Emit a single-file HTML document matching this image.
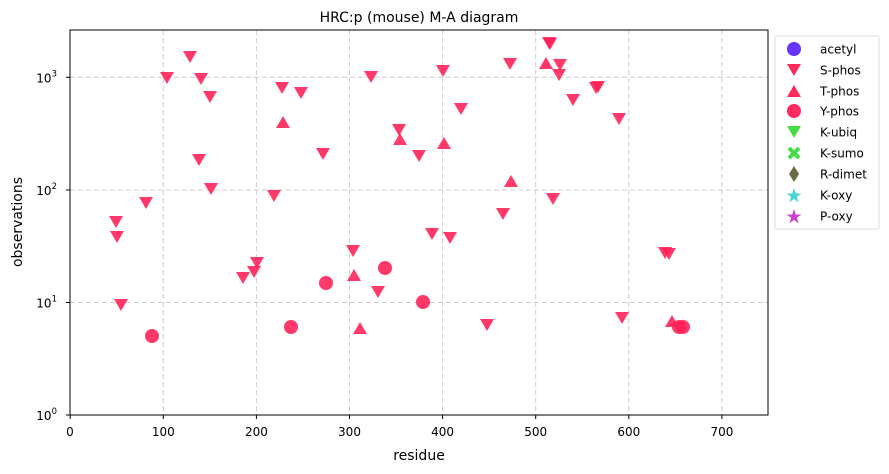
<!DOCTYPE html><html><head><style>body{margin:0;background:#fff}svg{display:block;font-family:"DejaVu Sans","Liberation Sans",sans-serif}</style></head><body>
<svg width="889" height="474" viewBox="0 0 889 474" xmlns="http://www.w3.org/2000/svg">
<defs>
<polygon id="d" points="-7,-6 7,-6 0,6" fill="#ff1f55" fill-opacity="0.88"/>
<polygon id="u" points="-7,6 7,6 0,-6" fill="#ff1f55" fill-opacity="0.88"/>
<circle id="c" r="7" fill="#ff1f55" fill-opacity="0.88"/>
</defs>
<rect x="0" y="0" width="889" height="474" fill="#fff"/>
<g stroke="#cccccc" stroke-dasharray="5,3" stroke-width="1">
<line x1="163.3" y1="30" x2="163.3" y2="415"/><line x1="256.4" y1="30" x2="256.4" y2="415"/><line x1="349.5" y1="30" x2="349.5" y2="415"/><line x1="442.6" y1="30" x2="442.6" y2="415"/><line x1="535.7" y1="30" x2="535.7" y2="415"/><line x1="628.8" y1="30" x2="628.8" y2="415"/><line x1="721.9" y1="30" x2="721.9" y2="415"/>
<line x1="70" y1="77.3" x2="768" y2="77.3"/><line x1="70" y1="190" x2="768" y2="190"/><line x1="70" y1="302.5" x2="768" y2="302.5"/>
</g>
<g>
<use href="#d" x="190" y="57"/><use href="#d" x="167" y="78"/><use href="#d" x="201" y="79"/><use href="#d" x="210" y="97"/><use href="#d" x="282" y="88"/><use href="#d" x="301" y="93"/><use href="#d" x="371" y="77"/><use href="#d" x="399" y="130"/><use href="#d" x="419" y="156"/><use href="#d" x="199" y="160"/><use href="#d" x="323" y="154"/><use href="#d" x="211" y="189"/><use href="#d" x="274" y="196"/><use href="#d" x="146" y="203"/><use href="#d" x="116" y="222"/><use href="#d" x="117" y="237"/><use href="#d" x="353" y="251"/><use href="#d" x="257" y="263"/><use href="#d" x="254" y="272"/><use href="#d" x="243" y="278"/><use href="#d" x="378" y="292"/><use href="#d" x="121" y="305"/>
<use href="#d" x="549" y="43"/><use href="#d" x="550" y="44"/><use href="#d" x="510" y="64"/><use href="#d" x="560" y="65"/><use href="#d" x="559" y="75"/><use href="#d" x="443" y="71"/><use href="#d" x="596" y="88"/><use href="#d" x="598" y="87"/><use href="#d" x="573" y="100"/><use href="#d" x="461" y="109"/><use href="#d" x="619" y="119"/><use href="#d" x="553" y="199"/><use href="#d" x="503" y="214"/><use href="#d" x="432" y="234"/><use href="#d" x="450" y="238"/><use href="#d" x="665" y="253"/><use href="#d" x="669" y="254"/><use href="#d" x="622" y="318"/><use href="#d" x="487" y="325"/>
<use href="#u" x="283" y="122"/><use href="#u" x="400" y="139"/><use href="#u" x="354" y="275"/><use href="#u" x="360" y="328"/><use href="#u" x="546" y="63"/><use href="#u" x="444" y="143"/><use href="#u" x="511" y="181"/><use href="#u" x="672" y="321"/>
<use href="#c" x="152" y="336"/><use href="#c" x="291" y="327"/><use href="#c" x="326" y="283"/><use href="#c" x="385" y="268"/><use href="#c" x="423" y="302"/><use href="#c" x="679" y="327"/><use href="#c" x="683" y="327"/>
</g>
<rect x="70" y="30" width="698" height="385" fill="none" stroke="#000" stroke-width="1"/>
<g stroke="#000" stroke-width="1">
<line x1="70.2" y1="415" x2="70.2" y2="419"/><line x1="163.3" y1="415" x2="163.3" y2="419"/><line x1="256.4" y1="415" x2="256.4" y2="419"/><line x1="349.5" y1="415" x2="349.5" y2="419"/><line x1="442.6" y1="415" x2="442.6" y2="419"/><line x1="535.7" y1="415" x2="535.7" y2="419"/><line x1="628.8" y1="415" x2="628.8" y2="419"/><line x1="721.9" y1="415" x2="721.9" y2="419"/>
<line x1="66" y1="415" x2="70" y2="415"/><line x1="66" y1="302.5" x2="70" y2="302.5"/><line x1="66" y1="190" x2="70" y2="190"/><line x1="66" y1="77.3" x2="70" y2="77.3"/>
</g>
<g font-size="12" fill="#000" text-anchor="middle">
<text x="70" y="436">0</text><text x="163.3" y="436">100</text><text x="256.4" y="436">200</text><text x="349.5" y="436">300</text><text x="442.6" y="436">400</text><text x="535.7" y="436">500</text><text x="628.8" y="436">600</text><text x="721.9" y="436">700</text>
</g>
<g font-size="12" fill="#000" text-anchor="end">
<text x="57" y="420">10<tspan font-size="8.5" dy="-6">0</tspan></text>
<text x="57" y="307.5">10<tspan font-size="8.5" dy="-6">1</tspan></text>
<text x="57" y="195">10<tspan font-size="8.5" dy="-6">2</tspan></text>
<text x="57" y="82.3">10<tspan font-size="8.5" dy="-6">3</tspan></text>
</g>
<text x="419" y="460" font-size="14" text-anchor="middle">residue</text>
<text transform="translate(22,222) rotate(-90)" font-size="14" text-anchor="middle">observations</text>
<text x="419" y="22" font-size="14" text-anchor="middle">HRC:p (mouse) M-A diagram</text>
<rect x="775" y="36" width="104" height="193" rx="2" fill="#fff" stroke="#dddddd"/>
<g font-size="12" fill="#000">
<circle cx="794" cy="49" r="7" fill="#6633ff"/><text x="820" y="53.5">acetyl</text>
<polygon points="787,64 801,64 794,76" fill="#ff2a5e"/><text x="820" y="74.5">S-phos</text>
<polygon points="787,97 801,97 794,85" fill="#ff2a5e"/><text x="820" y="95.5">T-phos</text>
<circle cx="794" cy="111" r="7" fill="#ff2a5e"/><text x="820" y="115.5">Y-phos</text>
<polygon points="787,126 801,126 794,138" fill="#44dd44"/><text x="820" y="136.5">K-ubiq</text>
<path d="M789,148 L799,158 M799,148 L789,158" stroke="#44dd44" stroke-width="4"/><text x="820" y="157.5">K-sumo</text>
<polygon points="794,166 799,174 794,182 789,174" fill="#6b6b45"/><text x="820" y="178.5">R-dimet</text>
<polygon points="794,188 795.8,193.5 801.5,193.5 796.9,196.8 798.6,202.3 794,199 789.4,202.3 791.1,196.8 786.5,193.5 792.2,193.5" fill="#44d4d4"/><text x="820" y="199.5">K-oxy</text>
<polygon points="794,209 795.8,214.5 801.5,214.5 796.9,217.8 798.6,223.3 794,220 789.4,223.3 791.1,217.8 786.5,214.5 792.2,214.5" fill="#cc44cc"/><text x="820" y="220.5">P-oxy</text>
</g>
</svg>
</body></html>
